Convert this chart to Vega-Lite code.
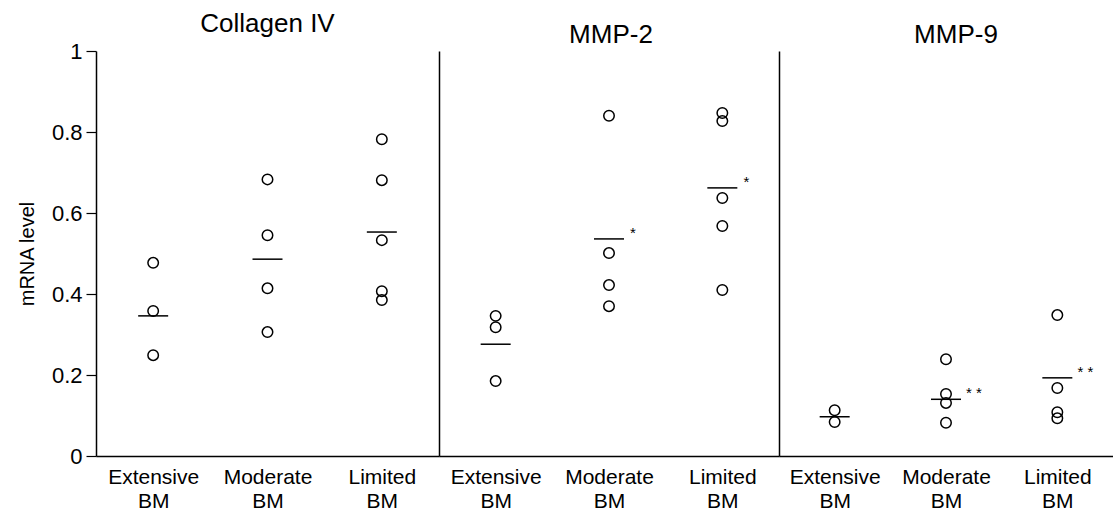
{
  "$schema": "https://vega.github.io/schema/vega-lite/v6.json",
  "background": "white",
  "padding": {"left": 17, "top": 11, "right": 0, "bottom": 0},
  "config": {
    "font": "Liberation Sans",
    "view": {"stroke": null},
    "concat": {"spacing": 0},
    "title": {"fontSize": 26, "fontWeight": "normal", "color": "black", "offset": 3, "anchor": "middle"},
    "axis": {"domainColor": "black", "tickColor": "black", "labelColor": "black", "titleColor": "black", "grid": false, "labelFontSize": 21, "titleFontSize": 20, "titleFontWeight": "normal", "domainWidth": 1.5, "tickWidth": 1.2}
  },
  "datasets": {
    "pts": [
      {"gene": "Collagen IV", "bm": "Extensive BM", "value": 0.477},
      {"gene": "Collagen IV", "bm": "Extensive BM", "value": 0.358},
      {"gene": "Collagen IV", "bm": "Extensive BM", "value": 0.249},
      {"gene": "Collagen IV", "bm": "Moderate BM", "value": 0.683},
      {"gene": "Collagen IV", "bm": "Moderate BM", "value": 0.545},
      {"gene": "Collagen IV", "bm": "Moderate BM", "value": 0.414},
      {"gene": "Collagen IV", "bm": "Moderate BM", "value": 0.306},
      {"gene": "Collagen IV", "bm": "Limited BM", "value": 0.782},
      {"gene": "Collagen IV", "bm": "Limited BM", "value": 0.681},
      {"gene": "Collagen IV", "bm": "Limited BM", "value": 0.533},
      {"gene": "Collagen IV", "bm": "Limited BM", "value": 0.407},
      {"gene": "Collagen IV", "bm": "Limited BM", "value": 0.385},
      {"gene": "MMP-2", "bm": "Extensive BM", "value": 0.346},
      {"gene": "MMP-2", "bm": "Extensive BM", "value": 0.318},
      {"gene": "MMP-2", "bm": "Extensive BM", "value": 0.185},
      {"gene": "MMP-2", "bm": "Moderate BM", "value": 0.840},
      {"gene": "MMP-2", "bm": "Moderate BM", "value": 0.501},
      {"gene": "MMP-2", "bm": "Moderate BM", "value": 0.422},
      {"gene": "MMP-2", "bm": "Moderate BM", "value": 0.370},
      {"gene": "MMP-2", "bm": "Limited BM", "value": 0.847},
      {"gene": "MMP-2", "bm": "Limited BM", "value": 0.827},
      {"gene": "MMP-2", "bm": "Limited BM", "value": 0.637},
      {"gene": "MMP-2", "bm": "Limited BM", "value": 0.568},
      {"gene": "MMP-2", "bm": "Limited BM", "value": 0.410},
      {"gene": "MMP-9", "bm": "Extensive BM", "value": 0.113},
      {"gene": "MMP-9", "bm": "Extensive BM", "value": 0.084},
      {"gene": "MMP-9", "bm": "Moderate BM", "value": 0.239},
      {"gene": "MMP-9", "bm": "Moderate BM", "value": 0.153},
      {"gene": "MMP-9", "bm": "Moderate BM", "value": 0.131},
      {"gene": "MMP-9", "bm": "Moderate BM", "value": 0.082},
      {"gene": "MMP-9", "bm": "Limited BM", "value": 0.348},
      {"gene": "MMP-9", "bm": "Limited BM", "value": 0.168},
      {"gene": "MMP-9", "bm": "Limited BM", "value": 0.108},
      {"gene": "MMP-9", "bm": "Limited BM", "value": 0.093}
    ],
    "means": [
      {"gene": "Collagen IV", "bm": "Extensive BM", "mean": 0.346, "sig": ""},
      {"gene": "Collagen IV", "bm": "Moderate BM", "mean": 0.486, "sig": ""},
      {"gene": "Collagen IV", "bm": "Limited BM", "mean": 0.553, "sig": ""},
      {"gene": "MMP-2", "bm": "Extensive BM", "mean": 0.276, "sig": ""},
      {"gene": "MMP-2", "bm": "Moderate BM", "mean": 0.536, "sig": "*"},
      {"gene": "MMP-2", "bm": "Limited BM", "mean": 0.662, "sig": "*"},
      {"gene": "MMP-9", "bm": "Extensive BM", "mean": 0.097, "sig": ""},
      {"gene": "MMP-9", "bm": "Moderate BM", "mean": 0.140, "sig": "* *"},
      {"gene": "MMP-9", "bm": "Limited BM", "mean": 0.193, "sig": "* *"}
    ]
  },
  "hconcat": [
    {
      "title": {"text": "Collagen IV"},
      "width": 343, "height": 405,
      "layer": [
        {"data": {"name": "pts"}, "transform": [{"filter": "datum.gene === 'Collagen IV'"}],
         "mark": {"type": "point", "shape": "circle", "filled": false, "color": "black", "size": 110, "strokeWidth": 1.5, "opacity": 1},
         "encoding": {
           "x": {"field": "bm", "type": "nominal", "sort": ["Extensive BM", "Moderate BM", "Limited BM"], "scale": {"type": "point", "padding": 0.5}, "axis": {"title": null, "labelAngle": 0, "ticks": false, "labelPadding": 10, "labelLineHeight": 24, "labelExpr": "split(datum.label, ' ')"}},
           "y": {"field": "value", "type": "quantitative", "scale": {"domain": [0, 1]}, "axis": {"title": "mRNA level", "values": [0, 0.2, 0.4, 0.6, 0.8, 1], "format": "~g", "labelFontSize": 22, "tickSize": 10, "labelPadding": 4, "titlePadding": 14}}
         }},
        {"data": {"name": "means"}, "transform": [{"filter": "datum.gene === 'Collagen IV'"}],
         "mark": {"type": "tick", "orient": "horizontal", "color": "black", "size": 30, "thickness": 1.5, "opacity": 1},
         "encoding": {
           "x": {"field": "bm", "type": "nominal", "sort": ["Extensive BM", "Moderate BM", "Limited BM"]},
           "y": {"field": "mean", "type": "quantitative"}
         }}
      ]
    },
    {
      "title": {"text": "MMP-2", "dx": 2},
      "width": 340, "height": 405,
      "layer": [
        {"data": {"name": "pts"}, "transform": [{"filter": "datum.gene === 'MMP-2'"}],
         "mark": {"type": "point", "shape": "circle", "filled": false, "color": "black", "size": 110, "strokeWidth": 1.5, "opacity": 1},
         "encoding": {
           "x": {"field": "bm", "type": "nominal", "sort": ["Extensive BM", "Moderate BM", "Limited BM"], "scale": {"type": "point", "padding": 0.5}, "axis": {"title": null, "labelAngle": 0, "ticks": false, "labelPadding": 10, "labelLineHeight": 24, "labelExpr": "split(datum.label, ' ')"}},
           "y": {"field": "value", "type": "quantitative", "scale": {"domain": [0, 1]}, "axis": {"title": null, "labels": false, "ticks": false}}
         }},
        {"data": {"name": "means"}, "transform": [{"filter": "datum.gene === 'MMP-2'"}],
         "mark": {"type": "tick", "orient": "horizontal", "color": "black", "size": 30, "thickness": 1.5, "opacity": 1},
         "encoding": {
           "x": {"field": "bm", "type": "nominal", "sort": ["Extensive BM", "Moderate BM", "Limited BM"]},
           "y": {"field": "mean", "type": "quantitative"}
         }},
        {"data": {"name": "means"}, "transform": [{"filter": "datum.gene === 'MMP-2'"}],
         "mark": {"type": "text", "color": "black", "fontSize": 15, "dx": 24, "dy": -6},
         "encoding": {
           "x": {"field": "bm", "type": "nominal", "sort": ["Extensive BM", "Moderate BM", "Limited BM"]},
           "y": {"field": "mean", "type": "quantitative"},
           "text": {"field": "sig"}
         }}
      ]
    },
    {
      "title": {"text": "MMP-9", "dx": 10},
      "width": 334, "height": 405,
      "layer": [
        {"data": {"name": "pts"}, "transform": [{"filter": "datum.gene === 'MMP-9'"}],
         "mark": {"type": "point", "shape": "circle", "filled": false, "color": "black", "size": 110, "strokeWidth": 1.5, "opacity": 1},
         "encoding": {
           "x": {"field": "bm", "type": "nominal", "sort": ["Extensive BM", "Moderate BM", "Limited BM"], "scale": {"type": "point", "padding": 0.5}, "axis": {"title": null, "labelAngle": 0, "ticks": false, "labelPadding": 10, "labelLineHeight": 24, "labelExpr": "split(datum.label, ' ')"}},
           "y": {"field": "value", "type": "quantitative", "scale": {"domain": [0, 1]}, "axis": {"title": null, "labels": false, "ticks": false}}
         }},
        {"data": {"name": "means"}, "transform": [{"filter": "datum.gene === 'MMP-9'"}],
         "mark": {"type": "tick", "orient": "horizontal", "color": "black", "size": 30, "thickness": 1.5, "opacity": 1},
         "encoding": {
           "x": {"field": "bm", "type": "nominal", "sort": ["Extensive BM", "Moderate BM", "Limited BM"]},
           "y": {"field": "mean", "type": "quantitative"}
         }},
        {"data": {"name": "means"}, "transform": [{"filter": "datum.gene === 'MMP-9'"}],
         "mark": {"type": "text", "color": "black", "fontSize": 15, "dx": 28, "dy": -6},
         "encoding": {
           "x": {"field": "bm", "type": "nominal", "sort": ["Extensive BM", "Moderate BM", "Limited BM"]},
           "y": {"field": "mean", "type": "quantitative"},
           "text": {"field": "sig"}
         }}
      ]
    }
  ]
}
